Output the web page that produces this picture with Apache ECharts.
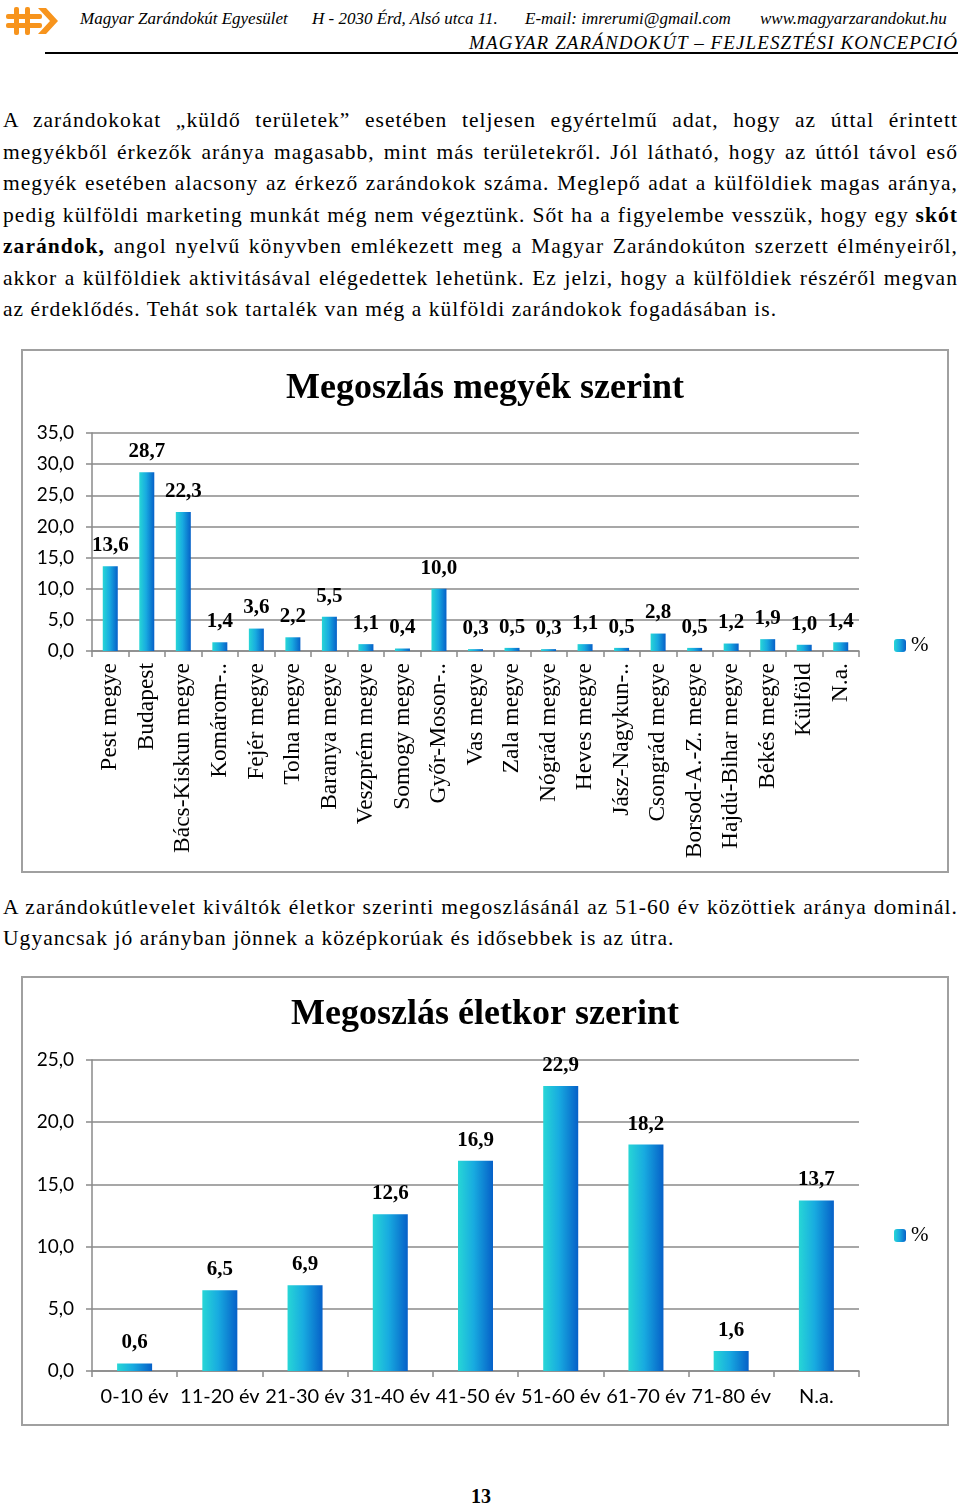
<!DOCTYPE html>
<html lang="hu">
<head>
<meta charset="utf-8">
<script src="https://cdn.jsdelivr.net/npm/echarts@6/dist/echarts.min.js"></script>
<style>
  html,body{margin:0;padding:0;background:#fff;}
  body{width:960px;height:1508px;position:relative;overflow:hidden;font-family:"Liberation Serif","Times New Roman",serif;color:#000;}
  .abs{position:absolute;}
  .hdr{font-style:italic;font-size:17px;white-space:nowrap;top:9px;}
  .para{left:3px;width:955px;font-size:21.5px;letter-spacing:1.05px;}
  .ln{height:31.5px;line-height:31.5px;text-align:justify;text-align-last:justify;white-space:normal;}
  .ln.last{text-align-last:left;}
  .box{border:2px solid #a0a0a0;box-sizing:content-box;}
</style>
</head>
<body>
<!-- header -->
<svg class="abs" style="left:4px;top:5px" width="56" height="32" viewBox="0 0 56 32">
  <g fill="#f7941d">
    <rect x="10" y="2" width="5" height="28" rx="2"/>
    <rect x="21" y="2" width="5" height="28" rx="2"/>
    <rect x="2" y="9" width="36" height="5" rx="2"/>
    <rect x="2" y="18" width="36" height="5" rx="2"/>
    <path d="M34 3 L42 3 L54 16 L42 29 L34 29 L46 16 Z"/>
  </g>
</svg>
<div class="abs hdr" style="left:80px">Magyar Zarándokút Egyesület</div>
<div class="abs hdr" style="left:312px">H - 2030 Érd, Alsó utca 11.</div>
<div class="abs hdr" style="left:525px">E-mail: imrerumi@gmail.com</div>
<div class="abs hdr" style="left:760px">www.magyarzarandokut.hu</div>
<div class="abs hdr" style="right:2px;top:32px;font-size:19px;letter-spacing:1.1px">MAGYAR ZARÁNDOKÚT – FEJLESZTÉSI KONCEPCIÓ</div>
<div class="abs" style="left:45px;top:52px;width:913px;height:2px;background:#000"></div>

<!-- paragraph 1 -->
<div class="abs para" style="top:105px">
  <div class="ln">A zarándokokat „küldő területek” esetében teljesen egyértelmű adat, hogy az úttal érintett</div>
  <div class="ln">megyékből érkezők aránya magasabb, mint más területekről. Jól látható, hogy az úttól távol eső</div>
  <div class="ln">megyék esetében alacsony az érkező zarándokok száma. Meglepő adat a külföldiek magas aránya,</div>
  <div class="ln">pedig külföldi marketing munkát még nem végeztünk. Sőt ha a figyelembe vesszük, hogy egy <b>skót</b></div>
  <div class="ln"><b>zarándok,</b> angol nyelvű könyvben emlékezett meg a Magyar Zarándokúton szerzett élményeiről,</div>
  <div class="ln">akkor a külföldiek aktivitásával elégedettek lehetünk. Ez jelzi, hogy a külföldiek részéről megvan</div>
  <div class="ln last">az érdeklődés. Tehát sok tartalék van még a külföldi zarándokok fogadásában is.</div>
</div>

<div id="c1" class="abs box" style="left:21px;top:349px;width:924px;height:520px"></div>

<!-- paragraph 2 -->
<div class="abs para" style="top:892px">
  <div class="ln" style="height:31px;line-height:31px">A zarándokútlevelet kiváltók életkor szerinti megoszlásánál az 51-60 év közöttiek aránya dominál.</div>
  <div class="ln last" style="height:31px;line-height:31px">Ugyancsak jó arányban jönnek a középkorúak és idősebbek is az útra.</div>
</div>

<div id="c2" class="abs box" style="left:21px;top:976px;width:924px;height:446px"></div>

<div class="abs" style="left:0;width:962px;top:1485px;text-align:center;font-weight:bold;font-size:20px">13</div>

<script>
// ---- data ----
const countyTitle = 'Megoszlás megyék szerint';
const counties = ['Pest megye','Budapest','Bács-Kiskun megye','Komárom-..','Fejér megye','Tolna megye','Baranya megye','Veszprém megye','Somogy megye','Győr-Moson-..','Vas megye','Zala megye','Nógrád megye','Heves megye','Jász-Nagykun-..','Csongrád megye','Borsod-A.-Z. megye','Hajdú-Bihar megye','Békés megye','Külföld','N.a.'];
const countyValues = [13.6, 28.7, 22.3, 1.4, 3.6, 2.2, 5.5, 1.1, 0.4, 10.0, 0.3, 0.5, 0.3, 1.1, 0.5, 2.8, 0.5, 1.2, 1.9, 1.0, 1.4];

const ageTitle = 'Megoszlás életkor szerint';
const ages = ['0-10 év','11-20 év','21-30 év','31-40 év','41-50 év','51-60 év','61-70 év','71-80 év','N.a.'];
const ageValues = [0.6, 6.5, 6.9, 12.6, 16.9, 22.9, 18.2, 1.6, 13.7];

const seriesName = '%';

// ---- helpers ----
const fmt = v => Number(v).toFixed(1).replace('.', ',');
const barGrad = () => new echarts.graphic.LinearGradient(0, 0, 1, 0, [
  {offset: 0, color: '#27d6d6'},
  {offset: 0.45, color: '#18abe0'},
  {offset: 1, color: '#0660c8'}
]);
const serif = '"Liberation Serif","Times New Roman",serif';
const sans = 'Lato, "Open Sans", sans-serif';

function makeOption(o) {
  return {
    animation: false,
    title: {
      text: o.title, left: 'center', top: o.titleTop,
      textStyle: {fontFamily: serif, fontWeight: 'bold', fontSize: 36, color: '#000'}
    },
    legend: {
      data: [seriesName], left: o.legendLeft, top: o.legendTop, orient: 'vertical',
      itemWidth: 12, itemHeight: 13, itemGap: 4,
      textStyle: {fontFamily: serif, fontSize: 21, color: '#000'}
    },
    grid: o.grid,
    xAxis: {
      type: 'category', data: o.cats,
      axisLine: {show: true, lineStyle: {color: '#8a8a8a', width: 1.5}},
      axisTick: {show: true, interval: 0, length: 6, lineStyle: {color: '#8a8a8a', width: 1.5}},
      axisLabel: o.xLabel
    },
    yAxis: {
      type: 'value', min: 0, max: o.max, interval: 5,
      axisLine: {show: true, lineStyle: {color: '#8a8a8a', width: 1.5}},
      axisTick: {show: true, length: 6, lineStyle: {color: '#8a8a8a', width: 1.5}},
      splitLine: {show: true, lineStyle: {color: '#8a8a8a', width: 1.5}},
      axisLabel: {formatter: fmt, fontFamily: sans, fontSize: 19, color: '#000', margin: 18}
    },
    series: [{
      name: seriesName, type: 'bar', data: o.vals, barWidth: o.barWidth,
      itemStyle: {color: barGrad()},
      label: {
        show: true, position: 'top', distance: 10,
        formatter: p => fmt(p.value),
        fontFamily: serif, fontWeight: 'bold', fontSize: 21, color: '#000'
      }
    }]
  };
}

const c1 = echarts.init(document.getElementById('c1'));
c1.setOption(makeOption({
  title: countyTitle, titleTop: 15, cats: counties, vals: countyValues, max: 35,
  grid: {left: 69, right: 88, top: 82, bottom: 220},
  barWidth: 15, legendLeft: 866, legendTop: 279,
  xLabel: {interval: 0, rotate: 90, fontFamily: serif, fontSize: 23.5, color: '#000', margin: 12}
}));

const c2 = echarts.init(document.getElementById('c2'));
c2.setOption(makeOption({
  title: ageTitle, titleTop: 14, cats: ages, vals: ageValues, max: 25,
  grid: {left: 69, right: 88, top: 82, bottom: 53},
  barWidth: 35, legendLeft: 866, legendTop: 242,
  xLabel: {interval: 0, fontFamily: sans, fontSize: 20, color: '#000', margin: 16}
}));
</script>
</body>
</html>
